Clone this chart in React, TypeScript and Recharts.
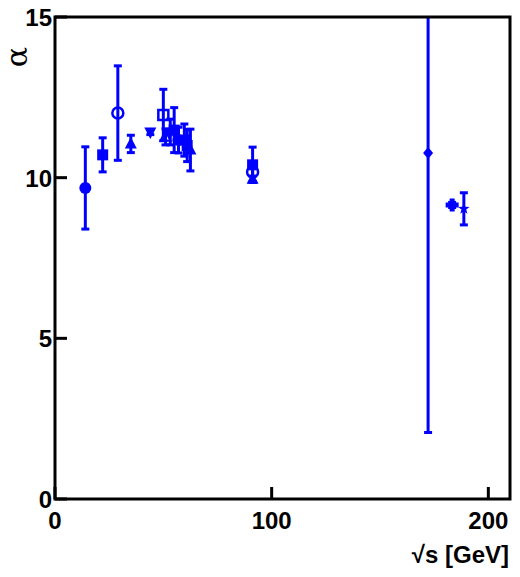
import { ErrorBar, ReferenceArea, Scatter, ScatterChart, XAxis, YAxis } from "recharts";

const BLUE = "#0000ff";
const FONT = "'Liberation Sans', Arial, sans-serif";

// sqrt(s) in GeV, alpha, symmetric error on alpha
const filledCircle = [
  { s: 14, a: 9.68, e: 1.28 },
  { s: 57, a: 11.17, e: 0.4 },
];
const filledSquare = [
  { s: 22, a: 10.71, e: 0.53 },
  { s: 55, a: 11.48, e: 0.7 },
  { s: 59.7, a: 11.17, e: 0.5 },
  { s: 61, a: 11.0, e: 0.5 },
  { s: 91.2, a: 10.4, e: 0.55 },
];
const openCircle = [
  { s: 29, a: 12.01, e: 1.47 },
  { s: 91.2, a: 10.18, e: 0.3 },
];
const triangleUp = [
  { s: 35, a: 11.05, e: 0.27 },
  { s: 62.5, a: 10.86, e: 0.65 },
  { s: 91.2, a: 9.95, e: 0.1 },
];
const triangleDown = [{ s: 44, a: 11.42, e: 0.08 }];
const openSquare = [{ s: 50, a: 11.95, e: 0.8 }];
const openTriangle = [{ s: 51, a: 11.27, e: 0.25 }];
const diamond = [
  { s: 53.2, a: 11.42, e: 0.4 },
  { s: 172.2, a: 10.77, e: 8.7 },
];
const cross = [{ s: 183.3, a: 9.15, e: 0.08 }];
const star = [{ s: 188.7, a: 9.03, e: 0.5 }];

const xTicks = [0, 100, 200];
const yTicks = [0, 5, 10, 15];

type Kind =
  | "circle"
  | "square"
  | "openCircle"
  | "triUp"
  | "triDown"
  | "openSquare"
  | "openTri"
  | "diamond"
  | "cross"
  | "star";

const Marker = ({ cx, cy, kind }: { cx: number; cy: number; kind: Kind }) => {
  if (cx == null || cy == null) return null;
  switch (kind) {
    case "circle":
      return <circle cx={cx} cy={cy} r={6} fill={BLUE} />;
    case "square":
      return <rect x={cx - 5.5} y={cy - 5.5} width={11} height={11} fill={BLUE} />;
    case "openCircle":
      return <circle cx={cx} cy={cy} r={5.5} fill="none" stroke={BLUE} strokeWidth={2.5} />;
    case "openSquare":
      return <rect x={cx - 5} y={cy - 5} width={10} height={10} fill="none" stroke={BLUE} strokeWidth={2.5} />;
    case "triUp":
      return <path d={`M${cx},${cy - 7}L${cx + 6},${cy + 4.5}L${cx - 6},${cy + 4.5}Z`} fill={BLUE} />;
    case "openTri":
      return (
        <path
          d={`M${cx},${cy - 6}L${cx + 5},${cy + 4}L${cx - 5},${cy + 4}Z`}
          fill="none"
          stroke={BLUE}
          strokeWidth={2}
        />
      );
    case "triDown":
      return <path d={`M${cx},${cy + 7}L${cx + 6},${cy - 4.5}L${cx - 6},${cy - 4.5}Z`} fill={BLUE} />;
    case "diamond":
      return <path d={`M${cx},${cy - 6}L${cx + 5},${cy}L${cx},${cy + 6}L${cx - 5},${cy}Z`} fill={BLUE} />;
    case "cross":
      return <path d={`M${cx - 2.5},${cy - 6.5}h5v4h4v5h-4v4h-5v-4h-4v-5h4Z`} fill={BLUE} />;
    case "star": {
      let d = "";
      for (let i = 0; i < 10; i++) {
        const r = i % 2 === 0 ? 6 : 2.5;
        const ang = -Math.PI / 2 + (i * Math.PI) / 5;
        d += `${i === 0 ? "M" : "L"}${cx + r * Math.cos(ang)},${cy + r * Math.sin(ang)}`;
      }
      return <path d={d + "Z"} fill={BLUE} />;
    }
  }
  return null;
};

const XTick = (props: any) => {
  const { x, y, payload } = props;
  return (
    <g>
      <line x1={x} y1={y} x2={x} y2={y - 12} stroke="#000" strokeWidth={3} />
      <text x={x} y={y + 30} textAnchor="middle" fontFamily={FONT} fontWeight="bold" fontSize={24} fill="#000">
        {payload.value}
      </text>
    </g>
  );
};

const YTick = (props: any) => {
  const { x, y, payload } = props;
  return (
    <g>
      <line x1={x} y1={y} x2={x + 12} y2={y} stroke="#000" strokeWidth={3} />
      <text x={x - 3} y={y + 9} textAnchor="end" fontFamily={FONT} fontWeight="bold" fontSize={24} fill="#000">
        {payload.value}
      </text>
    </g>
  );
};

const series: { data: { s: number; a: number; e: number }[]; kind: Kind }[] = [
  { data: filledCircle, kind: "circle" },
  { data: filledSquare, kind: "square" },
  { data: openCircle, kind: "openCircle" },
  { data: triangleUp, kind: "triUp" },
  { data: triangleDown, kind: "triDown" },
  { data: openSquare, kind: "openSquare" },
  { data: openTriangle, kind: "openTri" },
  { data: diamond, kind: "diamond" },
  { data: cross, kind: "cross" },
  { data: star, kind: "star" },
];

export default function App() {
  return (
    <div style={{ position: "absolute", left: 0, top: 0, width: 520, height: 577, background: "#fff" }}>
      <ScatterChart width={520} height={577} margin={{ top: 17, right: 10, bottom: 0, left: 0 }}>
        <XAxis
          type="number"
          dataKey="s"
          domain={[0, 210]}
          ticks={xTicks}
          allowDataOverflow
          axisLine={false}
          tickLine={false}
          tickSize={0}
          tickMargin={0}
          height={78}
          tick={<XTick />}
        />
        <YAxis
          type="number"
          dataKey="a"
          domain={[0, 15]}
          ticks={yTicks}
          allowDataOverflow
          axisLine={false}
          tickLine={false}
          tickSize={0}
          tickMargin={0}
          width={55}
          tick={<YTick />}
        />
        {series.map((sr, i) => (
          <Scatter
            key={i}
            data={sr.data}
            isAnimationActive={false}
            shape={(p: any) => <Marker cx={p.cx} cy={p.cy} kind={sr.kind} />}
          >
            <ErrorBar dataKey="e" direction="y" stroke={BLUE} strokeWidth={3} width={4} isAnimationActive={false} />
          </Scatter>
        ))}
        {/* mask whatever overflows above the frame */}
        <ReferenceArea x1={0} x2={210} y1={15} y2={20} fill="#fff" fillOpacity={1} stroke="none" ifOverflow="visible" zIndex={1000} />
        <ReferenceArea x1={0} x2={210} y1={0} y2={15} fill="none" stroke="#000" strokeWidth={3} zIndex={1001} />
        <text x={509} y={563} textAnchor="end" fontFamily={FONT} fontWeight="bold" fontSize={24} fill="#000">
          √s [GeV]
        </text>
        <text
          x={0}
          y={0}
          transform="translate(27, 57) rotate(-90)"
          textAnchor="middle"
          fontFamily="'DejaVu Serif', serif"
          fontSize={30}
          fill="#000"
        >
          α
        </text>
      </ScatterChart>
    </div>
  );
}
